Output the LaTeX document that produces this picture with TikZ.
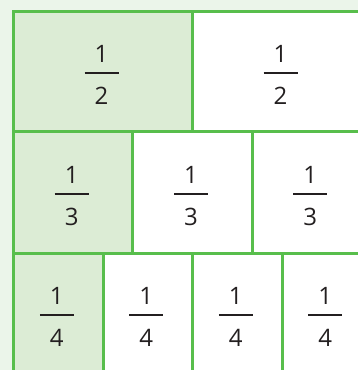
\documentclass[tikz,border=0pt]{standalone}
\usepackage{fontspec}
\setmainfont{Open Sans}
\definecolor{gline}{HTML}{58BE4C}
\definecolor{gfill}{HTML}{DCECD5}
\definecolor{gbg}{HTML}{EBF5EA}
\definecolor{ink}{HTML}{231F20}
\newcommand\fracat[4]{%
  \node[num] (#1n) at (#2,#3-10.5) {1};
  \node[num] (#1d) at (#2,#3+31.5) {#4};
  \draw[fbar] (#2-17,#3) -- (#2+17,#3);
}
\begin{document}
\begin{tikzpicture}[x=1pt,y=-1pt,
  cell/.style={draw=gline, line width=3pt, fill=white, rectangle, inner sep=0pt, anchor=north west},
  shaded/.style={cell, fill=gfill},
  num/.style={anchor=base, inner sep=0pt, text=ink, font=\fontsize{24}{24}\selectfont},
  fbar/.style={draw=ink, line width=1.4pt}]
\useasboundingbox (0,0) rectangle (358,370);
\clip (0,0) rectangle (358,370);
\fill[gbg] (0,0) rectangle (358,370);
% row 1: halves
\node[shaded, minimum width=179pt, minimum height=120pt] (h1) at (12,10) {};
\node[cell, minimum width=179pt, minimum height=120pt] (h2) at (191,10) {};
% row 2: thirds
\node[shaded, minimum width=119.33pt, minimum height=122pt] (t1) at (12,130) {};
\node[cell, minimum width=119.33pt, minimum height=122pt] (t2) at (131.33,130) {};
\node[cell, minimum width=119.33pt, minimum height=122pt] (t3) at (250.67,130) {};
% row 3: quarters
\node[shaded, minimum width=89.5pt, minimum height=140pt] (q1) at (12,252) {};
\node[cell, minimum width=89.5pt, minimum height=140pt] (q2) at (101.5,252) {};
\node[cell, minimum width=89.5pt, minimum height=140pt] (q3) at (191,252) {};
\node[cell, minimum width=89.5pt, minimum height=140pt] (q4) at (280.5,252) {};
% fractions
\fracat{fh1}{101.5}{73}{2}
\fracat{fh2}{280.5}{73}{2}
\fracat{ft1}{71.67}{194}{3}
\fracat{ft2}{191}{194}{3}
\fracat{ft3}{310.33}{194}{3}
\fracat{fq1}{56.75}{315}{4}
\fracat{fq2}{146.25}{315}{4}
\fracat{fq3}{235.75}{315}{4}
\fracat{fq4}{325.25}{315}{4}
\end{tikzpicture}
\end{document}
